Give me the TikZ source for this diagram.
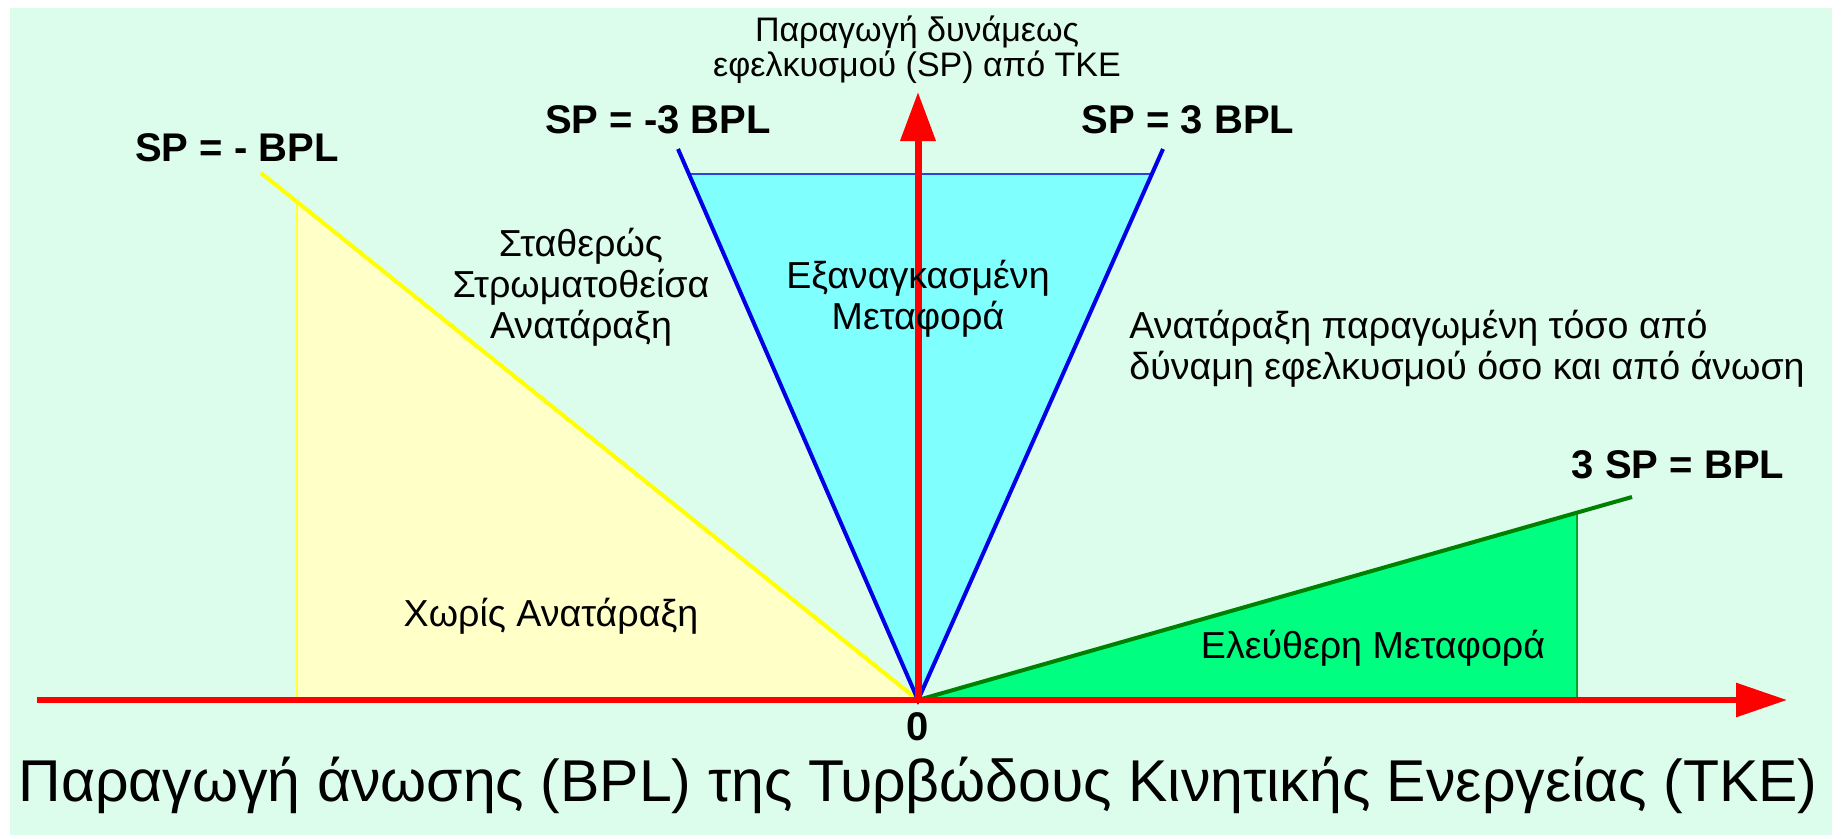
\documentclass[tikz,border=0pt]{standalone}
\usepackage{fontspec}
\setmainfont{Liberation Sans}
\usetikzlibrary{arrows.meta}
\definecolor{bgmint}{RGB}{220,253,236}
\definecolor{yfill}{RGB}{255,255,200}
\definecolor{yline}{RGB}{255,255,0}
\definecolor{cfill}{RGB}{128,255,255}
\definecolor{bline}{RGB}{0,0,230}
\definecolor{gfill}{RGB}{0,255,128}
\definecolor{gline}{RGB}{0,128,0}
\definecolor{axred}{RGB}{255,0,0}
\tikzset{
  lbl/.style={inner sep=0pt, font=\fontsize{18.8}{20.5}\selectfont, align=center},
  toplbl/.style={inner sep=0pt, font=\fontsize{17}{17.5}\selectfont, align=center},
  blbl/.style={inner sep=0pt, font=\fontsize{20}{24}\selectfont\bfseries},
  ttl/.style={inner sep=0pt, font=\fontsize{29.5}{34}\selectfont},
  axis/.style={draw=axred, line width=3pt},
}
\begin{document}
\begin{tikzpicture}[x=0.5pt,y=-0.5pt]
\useasboundingbox (0,0) rectangle (1832,835);
\fill[white] (0,0) rectangle (1832,835);
\fill[bgmint] (10,8) rectangle (1832,835);
% key points
\coordinate (O) at (918,700);
\coordinate (Y) at (261,173);
\coordinate (BL) at (678,149);
\coordinate (BR) at (1163,149);
\coordinate (G) at (1632,497);
\coordinate (XS) at (37,700);
\coordinate (XE) at (1787,700);
\coordinate (YE) at (918,92);
% fills
\fill[yfill] (297,202) -- (O) -- (297,700) -- cycle;
\draw[yline!70!yfill, line width=0.6pt] (297,202) -- (297,700);
\fill[cfill] (689,174) -- (1152,174) -- (O) -- cycle;
\draw[draw={rgb,255:red,40;green,70;blue,220}, line width=0.8pt] (689,174) -- (1152,174);
\fill[gfill] (O) -- (1577,512.6) -- (1577,700) -- cycle;
\draw[gline!70!gfill, line width=0.6pt] (1577,512.6) -- (1577,700);
% boundary lines
\draw[yline, line width=2pt] (Y) -- (O);
\draw[bline, line width=2pt] (BL) -- (O) -- (BR);
\draw[gline, line width=2pt] (O) -- (G);
% axes
\draw[axis, -{Triangle[length=25.5pt,width=16.5pt]}] (XS) -- (XE);
\draw[axis, line width=3.5pt, -{Triangle[length=24.5pt,width=17pt]}] (O) -- (YE);
% labels
\node[toplbl] (ylab) at (917,50) {Παραγωγή δυνάμεως\\εφελκυσμού (SP) από TKE};
\node[blbl] (lm3) at (658,120) {SP = -3 BPL};
\node[blbl] (lp3) at (1188,120) {SP = 3 BPL};
\node[blbl] (lm1) at (237,148) {SP = - BPL};
\node[lbl] (stab) at (581,287) {Σταθερώς\\Στρωματοθείσα\\Ανατάραξη};
\node[lbl] (forced) at (918,298.5) {Εξαναγκασμένη\\Μεταφορά};
\node[lbl, align=left, anchor=west] (both) at (1129,348.5) {Ανατάραξη παραγωμένη τόσο από\\δύναμη εφελκυσμού όσο και από άνωση};
\node[blbl] (l3sp) at (1678,465) {3 SP = BPL};
\node[lbl] (noturb) at (551,616) {Χωρίς Ανατάραξη};
\node[lbl] (free) at (1373,648) {Ελεύθερη Μεταφορά};
\node[blbl] (zero) at (918,727) {0};
\node[ttl] (xlab) at (918,785) {Παραγωγή άνωσης (BPL) της Τυρβώδους Κινητικής Ενεργείας (TKE)};
\end{tikzpicture}
\end{document}
